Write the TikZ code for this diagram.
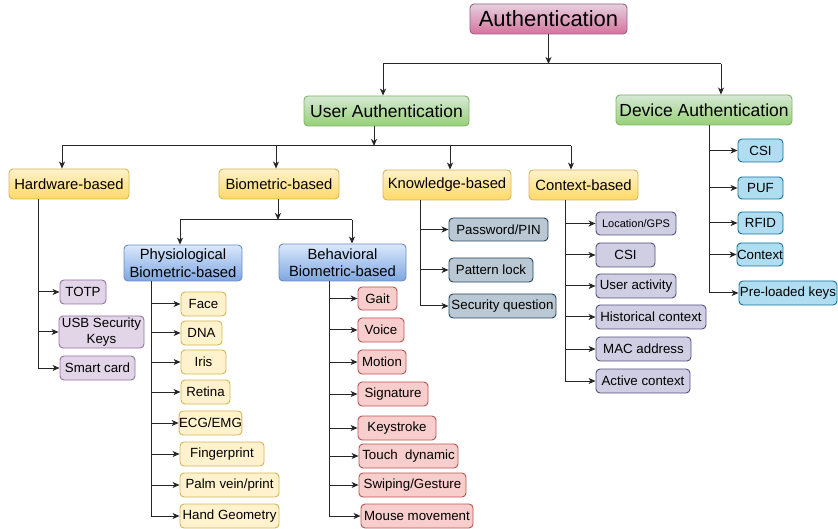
\documentclass[tikz,border=0pt]{standalone}
\usepackage{fontspec}
\setmainfont{Liberation Sans}
\usetikzlibrary{arrows.meta}
\definecolor{pinkT}{HTML}{E6D0DE}\definecolor{pinkB}{HTML}{D5739D}\definecolor{pinkS}{HTML}{996185}
\definecolor{greenT}{HTML}{D5E8D4}\definecolor{greenB}{HTML}{97D077}\definecolor{greenS}{HTML}{82B366}
\definecolor{yelT}{HTML}{FFF2CC}\definecolor{yelB}{HTML}{FFD966}\definecolor{yelS}{HTML}{D6B656}
\definecolor{bluT}{HTML}{DAE8FC}\definecolor{bluB}{HTML}{7EA6E0}\definecolor{bluS}{HTML}{6C8EBF}
\definecolor{redF}{HTML}{F8CECC}\definecolor{redS}{HTML}{B85450}
\definecolor{purF}{HTML}{E1D5E7}\definecolor{purS}{HTML}{9673A6}
\definecolor{gryF}{HTML}{BAC8D3}\definecolor{gryS}{HTML}{23445D}
\definecolor{lavF}{HTML}{D0CEE2}\definecolor{lavS}{HTML}{56517E}
\definecolor{cyaF}{HTML}{B1DDF0}\definecolor{cyaS}{HTML}{10739E}
\newcommand{\boxat}[7]{\node[#1,minimum width={(#5)-(#4)},minimum height={(#7)-(#6)}] (#2) at ({((#4)+(#5))/2},{((#6)+(#7))/2}) {#3};}
\begin{document}
\begin{tikzpicture}[x=1pt,y=-1pt,
  box/.style={draw,rounded corners=4pt,line width=0.9pt,inner sep=0pt,align=center,text=black},
  pinkg/.style={box,draw=pinkS,top color=pinkT,bottom color=pinkB,font=\fontsize{22}{26}\selectfont},
  greeng/.style={box,draw=greenS,top color=greenT,bottom color=greenB,font=\fontsize{17.5}{21}\selectfont},
  yelg/.style={box,draw=yelS,top color=yelT,bottom color=yelB,font=\fontsize{14.8}{17.5}\selectfont},
  blug/.style={box,draw=bluS,top color=bluT,bottom color=bluB,font=\fontsize{14.8}{17.5}\selectfont},
  kid/.style={box,font=\fontsize{13.3}{16.5}\selectfont},
  yk/.style={kid,draw=yelS,fill=yelT},
  rk/.style={kid,draw=redS,fill=redF},
  pk/.style={kid,draw=purS,fill=purF},
  gk/.style={kid,draw=gryS,fill=gryF},
  lk/.style={kid,draw=lavS,fill=lavF},
  ck/.style={kid,draw=cyaS,fill=cyaF},
  ln/.style={line width=1pt,draw=black!85},
  arr/.style={ln,-{Stealth[length=7pt,width=6pt,inset=2pt]}}]
\useasboundingbox (0,0) rectangle (838,529);
% level nodes
\boxat{pinkg}{auth}{Authentication}{470}{627}{4}{34}
\boxat{greeng}{user}{User Authentication}{304}{469}{96}{126}
\boxat{greeng}{dev}{Device Authentication}{616}{792}{95}{125}
\boxat{yelg}{hw}{Hardware-based}{9}{129}{169}{199}
\boxat{yelg}{bio}{Biometric-based}{219}{339}{169}{199}
\boxat{yelg}{know}{Knowledge-based}{383}{511}{170}{200}
\boxat{yelg}{ctx}{Context-based}{529}{638}{170}{200}
\boxat{blug}{phys}{Physiological\\Biometric-based}{124}{242}{245}{281}
\boxat{blug}{beh}{Behavioral\\Biometric-based}{279}{406}{244}{281}
% hardware children
\boxat{pk}{totp}{TOTP}{60}{106}{280}{304}
\boxat{pk}{usb}{USB Security\\Keys}{59}{144}{316}{348}
\boxat{pk}{smart}{Smart card}{60}{135}{356}{380}
% physiological children
\boxat{yk}{face}{Face}{181}{226}{292}{316}
\boxat{yk}{dna}{DNA}{181}{222}{321}{345}
\boxat{yk}{iris}{Iris}{181}{226}{350}{374}
\boxat{yk}{retina}{Retina}{181}{230}{380}{404}
\boxat{yk}{ecg}{ECG/EMG}{180}{241}{411}{435}
\boxat{yk}{finger}{Fingerprint}{180}{264}{442}{466}
\boxat{yk}{palm}{Palm vein/print}{180}{279}{473}{497}
\boxat{yk}{hand}{Hand Geometry}{180}{279}{504}{528}
% behavioral children
\boxat{rk}{gait}{Gait}{358}{397}{287}{310}
\boxat{rk}{voice}{Voice}{358}{404}{318}{342}
\boxat{rk}{motion}{Motion}{358}{406}{350}{374}
\boxat{rk}{sig}{Signature}{358}{428}{382}{406}
\boxat{rk}{key}{Keystroke}{358}{436}{416}{440}
\boxat{rk}{touch}{Touch\ \ dynamic}{359}{458}{444}{468}
\boxat{rk}{swipe}{Swiping/Gesture}{359}{466}{473}{497}
\boxat{rk}{mouse}{Mouse movement}{361}{473}{504}{528}
% knowledge children
\boxat{gk}{pwd}{Password/PIN}{449}{548}{218}{241}
\boxat{gk}{pattern}{Pattern lock}{449}{533}{258}{282}
\boxat{gk}{secq}{Security question}{449}{556}{294}{318}
% context children
\boxat{lk,font=\fontsize{11}{13}\selectfont}{loc}{Location/GPS}{596}{676}{212}{235}
\boxat{lk}{csi}{CSI}{596}{655}{243}{267}
\boxat{lk}{uact}{User activity}{596}{676}{274}{298}
\boxat{lk}{hist}{Historical context}{596}{706}{305}{329}
\boxat{lk}{mac}{MAC address}{596}{691}{337}{361}
\boxat{lk}{act}{Active context}{596}{690}{369}{393}
% device children
\boxat{ck}{dcsi}{CSI}{738}{783}{139}{162}
\boxat{ck}{puf}{PUF}{738}{783}{177}{199}
\boxat{ck}{rfid}{RFID}{738}{783}{212}{234}
\boxat{ck}{dctx}{Context}{737}{783}{243}{266}
\boxat{ck}{pre}{Pre-loaded keys}{739}{837}{281}{305}
% junction coordinates
\coordinate (j0) at (548.5,64);
\coordinate (ux) at (383,0);
\coordinate (dx) at (721,0);
\coordinate (j1) at (374,146);
\coordinate (hx) at (62,0);
\coordinate (bx) at (276,0);
\coordinate (kx) at (450,0);
\coordinate (cx) at (571,0);
\coordinate (j2) at (278,220);
\coordinate (px) at (180,0);
\coordinate (ex) at (352,0);
% tree connectors
\draw[arr] (auth.south) -- (j0);
\draw[ln] (j0 -| ux) -- (j0 -| dx);
\draw[arr] (j0 -| ux) -- (user.north -| ux);
\draw[arr] (j0 -| dx) -- (dev.north -| dx);
\draw[arr] (user.south -| j1) -- (j1);
\draw[ln] (j1 -| hx) -- (j1 -| cx);
\draw[arr] (j1 -| hx) -- (hw.north -| hx);
\draw[arr] (j1 -| bx) -- (bio.north -| bx);
\draw[arr] (j1 -| kx) -- (know.north -| kx);
\draw[arr] (j1 -| cx) -- (ctx.north -| cx);
\draw[arr] (bio.south -| j2) -- (j2);
\draw[ln] (j2 -| px) -- (j2 -| ex);
\draw[arr] (j2 -| px) -- (phys.north -| px);
\draw[arr] (j2 -| ex) -- (beh.north -| ex);
% side trunks
\coordinate (thw) at (38,0);
\draw[ln] (hw.south -| thw) -- (thw |- smart.west);
\foreach \c in {totp,usb,smart} \draw[arr] (thw |- \c.west) -- (\c.west);
\coordinate (tph) at (151,0);
\draw[ln] (phys.south -| tph) -- (tph |- hand.west);
\foreach \c in {face,dna,iris,retina,ecg,finger,palm,hand} \draw[arr] (tph |- \c.west) -- (\c.west);
\coordinate (tbe) at (329,0);
\draw[ln] (beh.south -| tbe) -- (tbe |- mouse.west);
\foreach \c in {gait,voice,motion,sig,key,touch,swipe,mouse} \draw[arr] (tbe |- \c.west) -- (\c.west);
\coordinate (tkn) at (420,0);
\draw[ln] (know.south -| tkn) -- (tkn |- secq.west);
\foreach \c in {pwd,pattern,secq} \draw[arr] (tkn |- \c.west) -- (\c.west);
\coordinate (tcx) at (565,0);
\draw[ln] (ctx.south -| tcx) -- (tcx |- act.west);
\foreach \c in {loc,csi,uact,hist,mac,act} \draw[arr] (tcx |- \c.west) -- (\c.west);
\coordinate (tdv) at (709,0);
\draw[ln] (dev.south -| tdv) -- (tdv |- pre.west);
\foreach \c in {dcsi,puf,rfid,dctx,pre} \draw[arr] (tdv |- \c.west) -- (\c.west);
\end{tikzpicture}
\end{document}
